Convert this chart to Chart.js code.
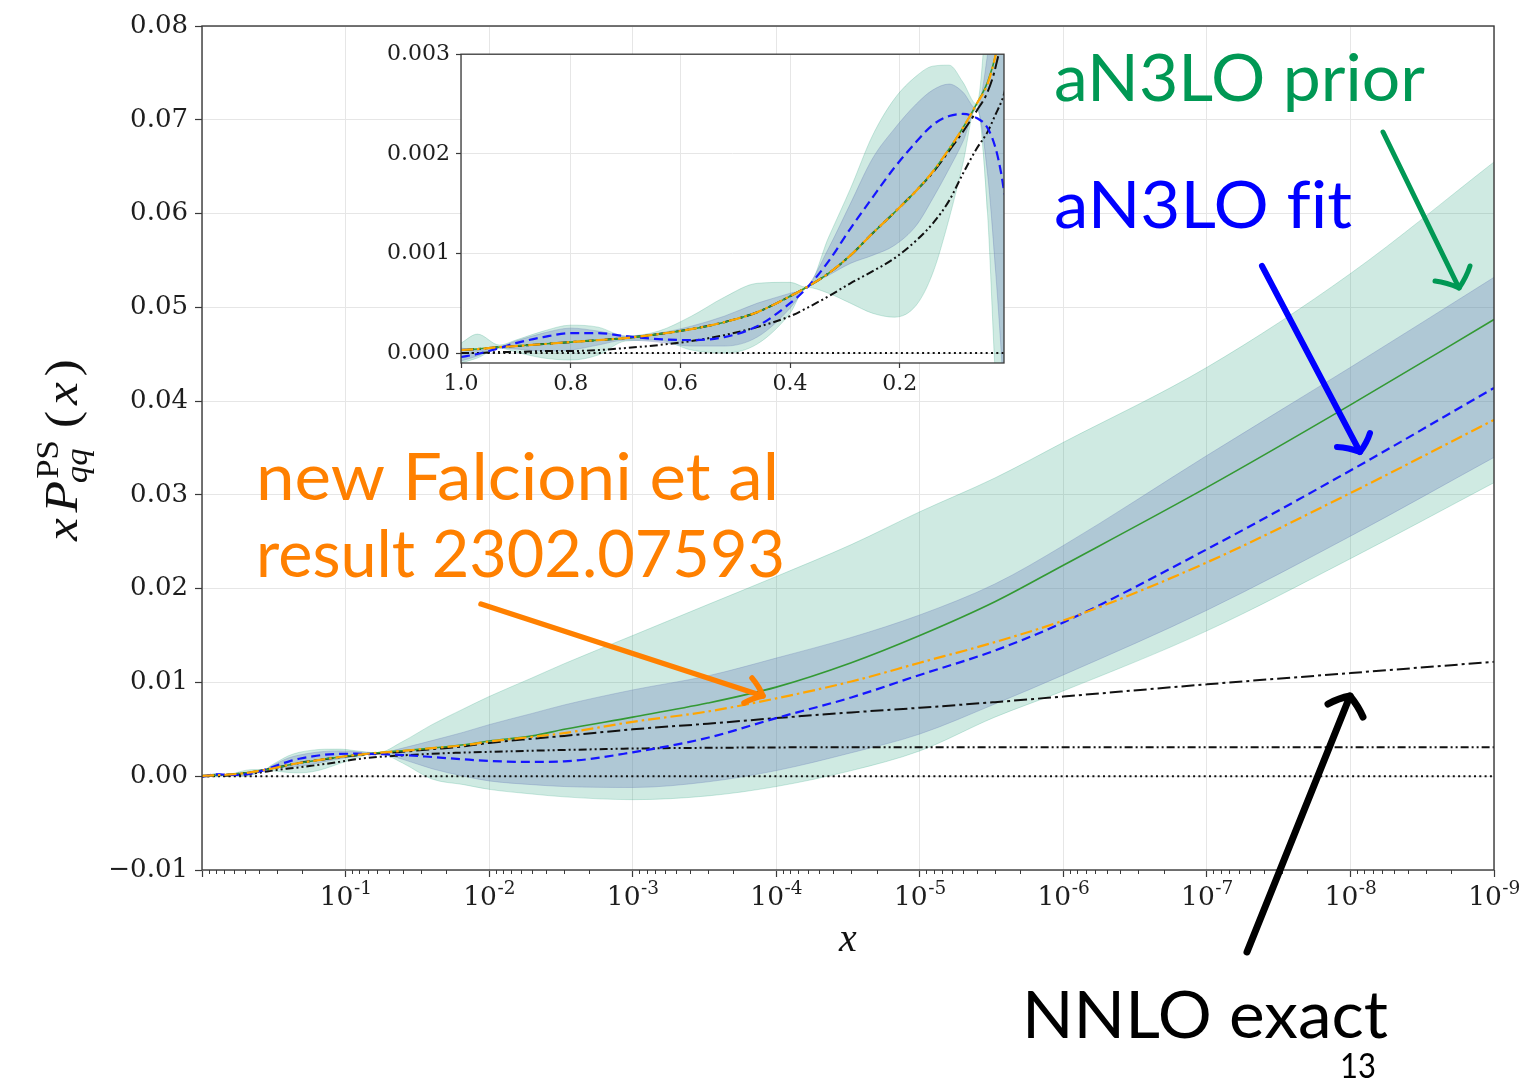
<!DOCTYPE html>
<html>
<head>
<meta charset="utf-8">
<script src="https://cdn.jsdelivr.net/npm/chart.js@4.4.1/dist/chart.umd.min.js"></script>
<style>
  html, body { margin: 0; padding: 0; background: #fff; }
  #wrap { position: relative; width: 1524px; height: 1082px; overflow: hidden; }
  #main { position: absolute; left: 0; top: 0; }
  #inset { position: absolute; left: 370px; top: 35px; }
</style>
</head>
<body>
<div id="wrap">
  <canvas id="main" width="1524" height="1082"></canvas>
  <canvas id="inset" width="640" height="370"></canvas>
</div>
<script>
// ---- data: x P_qq^PS(x) curves sampled on a common x grid ----
const xs = [1, 0.97, 0.93, 0.9, 0.85, 0.8, 0.75, 0.7, 0.64, 0.58,
            0.52, 0.46, 0.4, 0.37, 0.33, 0.29, 0.25, 0.21, 0.17, 0.14,
            0.11, 0.085, 0.06, 0.04, 0.025, 0.015, 0.01, 0.005, 3e-3, 1e-3,
            3e-4, 1e-4, 3e-5, 1e-5, 3e-6, 1e-6, 1e-7, 1e-8, 1e-9];

// aN3LO prior: central value and band
const priorCentral = [0.00003, 0.00004, 0.00006, 0.00007, 0.00009, 0.00011, 0.00013, 0.00015, 0.00019, 0.00024,
                      0.00031, 0.00041, 0.00057, 0.00066, 0.00080, 0.00098, 0.00120, 0.00141, 0.00163, 0.00182,
                      0.00205, 0.00226, 0.00250, 0.00272, 0.00300, 0.00335, 0.00375, 0.00430, 0.00500, 0.00630,
                      0.00780, 0.00950, 0.01210, 0.01500, 0.01860, 0.02250, 0.03080, 0.03960, 0.04870];
const priorHi = [0.00010, 0.00019, 0.00008, 0.00013, 0.00022, 0.00028, 0.00026, 0.00017, 0.00022, 0.00037,
                 0.00056, 0.00070, 0.00071, 0.00066, 0.00116, 0.00165, 0.00218, 0.00255, 0.00278, 0.00288,
                 0.00289, 0.00272, 0.00250, 0.00370, 0.00550, 0.00720, 0.00850, 0.01050, 0.01200, 0.01500,
                 0.01830, 0.02130, 0.02470, 0.02820, 0.03180, 0.03560, 0.04360, 0.05360, 0.06550];
const priorLo = [-0.00010, -0.00005, 0.00005, 0.00001, -0.00005, -0.00007, -0.00002, 0.00012, 0.00013, 0.00003,
                 0.00000, 0.00009, 0.00040, 0.00066, 0.00060, 0.00050, 0.00040, 0.00036, 0.00048, 0.00080,
                 0.00135, 0.00190, 0.00250, 0.00140, -0.00030, -0.00090, -0.00140, -0.00190, -0.00220, -0.00250,
                 -0.00210, -0.00110, 0.00060, 0.00270, 0.00630, 0.00910, 0.01550, 0.02320, 0.03130];

// aN3LO fit: central value and band
const fitCentral = [-0.00004, -0.00001, 0.00005, 0.00010, 0.00016, 0.00020, 0.00020, 0.00017, 0.00014, 0.00013,
                    0.00016, 0.00027, 0.00050, 0.00065, 0.00092, 0.00125, 0.00156, 0.00186, 0.00212, 0.00229,
                    0.00238, 0.00240, 0.00236, 0.00226, 0.00205, 0.00180, 0.00163, 0.00152, 0.00158, 0.00255,
                    0.00410, 0.00620, 0.00840, 0.01080, 0.01340, 0.01640, 0.02420, 0.03260, 0.04140];
const fitHi = [0.00005, 0.00003, 0.00006, 0.00012, 0.00020, 0.00025, 0.00022, 0.00017, 0.00020, 0.00027,
               0.00037, 0.00050, 0.00060, 0.00066, 0.00105, 0.00150, 0.00195, 0.00225, 0.00250, 0.00264,
               0.00270, 0.00262, 0.00245, 0.00300, 0.00380, 0.00470, 0.00550, 0.00670, 0.00760, 0.00920,
               0.01070, 0.01260, 0.01480, 0.01720, 0.02050, 0.02460, 0.03420, 0.04360, 0.05320];
const fitLo = [-0.00008, -0.00003, 0.00005, 0.00004, 0.00002, 0.00003, 0.00008, 0.00013, 0.00011, 0.00007,
               0.00007, 0.00016, 0.00045, 0.00066, 0.00078, 0.00090, 0.00098, 0.00108, 0.00128, 0.00155,
               0.00185, 0.00212, 0.00245, 0.00180, 0.00080, 0.00000, -0.00050, -0.00090, -0.00110, -0.00120,
               -0.00060, 0.00060, 0.00250, 0.00450, 0.00770, 0.01080, 0.01770, 0.02560, 0.03400];

// Falcioni et al. (2302.07593)
const falcioni = [0.00003, 0.00004, 0.00006, 0.00007, 0.00009, 0.00011, 0.00013, 0.00015, 0.00019, 0.00024,
                  0.00031, 0.00041, 0.00057, 0.00066, 0.00080, 0.00098, 0.00120, 0.00141, 0.00163, 0.00182,
                  0.00205, 0.00226, 0.00250, 0.00270, 0.00300, 0.00330, 0.00370, 0.00420, 0.00460, 0.00580,
                  0.00690, 0.00830, 0.01010, 0.01210, 0.01430, 0.01660, 0.02280, 0.03020, 0.03800];

// exact lower orders
const nnlo = [0.00003, 0.00004, 0.00006, 0.00007, 0.00009, 0.00011, 0.00013, 0.00015, 0.00019, 0.00024,
              0.00031, 0.00041, 0.00057, 0.00066, 0.00080, 0.00098, 0.00120, 0.00141, 0.00163, 0.00181,
              0.00203, 0.00222, 0.00243, 0.00262, 0.00288, 0.00318, 0.00355, 0.00400, 0.00430, 0.00500,
              0.00560, 0.00620, 0.00680, 0.00730, 0.00790, 0.00850, 0.00980, 0.01100, 0.01220];
const nlo = [0, 0, 0.00001, 0.00001, 0.00002, 0.00002, 0.00003, 0.00005, 0.00008, 0.00012,
             0.00018, 0.00026, 0.00037, 0.00045, 0.00057, 0.00070, 0.00082, 0.00095, 0.00113, 0.00130,
             0.00153, 0.00180, 0.00205, 0.00222, 0.00240, 0.00252, 0.00260, 0.00272, 0.00280, 0.00295,
             0.00303, 0.00307, 0.00310, 0.00310, 0.00310, 0.00310, 0.00310, 0.00310, 0.00310];
const lo = xs.map(() => 0);

// axis ticks
const mainDecades = [0, 1, 2, 3, 4, 5, 6, 7, 8, 9];          // x = 10^-n
const mainLabelledDecades = [1, 2, 3, 4, 5, 6, 7, 8, 9];
const insetXTicks = [1.0, 0.8, 0.6, 0.4, 0.2];
const insetYTicks = [0, 0.001, 0.002, 0.003];

// ---- styling ----
const AXIS = '#3a3a3a', GRID = '#e6e6e6', TICKTXT = '#1e1e1e';
const SERIF = '"DejaVu Serif", serif';
const MATH = '"Liberation Serif", "DejaVu Serif", serif';
const SANS = 'Lato, "Open Sans", sans-serif';
const GREEN_FILL = 'rgba(27,158,119,0.21)';
const BLUE_FILL = 'rgba(102,123,181,0.30)';

function series(arr, xmin) {
  const out = [];
  xs.forEach((x, i) => { if (x >= xmin) out.push({ x: x, y: arr[i] }); });
  return out;
}

function buildDatasets(xmin) {
  const c = { pointRadius: 0, pointHoverRadius: 0, cubicInterpolationMode: 'monotone', fill: false };
  return [
    { ...c, label: 'aN3LO prior band', data: series(priorHi, xmin), fill: '+1', backgroundColor: GREEN_FILL, borderColor: GREEN_FILL, borderWidth: 1, order: 10 },
    { ...c, label: 'aN3LO prior band low', data: series(priorLo, xmin), borderColor: GREEN_FILL, borderWidth: 1, order: 9 },
    { ...c, label: 'aN3LO fit band', data: series(fitHi, xmin), fill: '+1', backgroundColor: BLUE_FILL, borderColor: BLUE_FILL, borderWidth: 1, order: 8 },
    { ...c, label: 'aN3LO fit band low', data: series(fitLo, xmin), borderColor: BLUE_FILL, borderWidth: 1, order: 7 },
    { ...c, label: 'LO', data: series(lo, xmin), borderColor: '#111', borderWidth: 2, borderDash: [2, 3.3], order: 6 },
    { ...c, label: 'NLO', data: series(nlo, xmin), borderColor: '#111', borderWidth: 2, borderDash: [8, 3, 2, 3, 2, 3], order: 5 },
    { ...c, label: 'NNLO exact', data: series(nnlo, xmin), borderColor: '#111', borderWidth: 2, borderDash: [13, 4, 3, 4], order: 4 },
    { ...c, label: 'aN3LO prior', data: series(priorCentral, xmin), borderColor: '#339933', borderWidth: 1.6, order: 3 },
    { ...c, label: 'aN3LO fit', data: series(fitCentral, xmin), borderColor: '#1515ff', borderWidth: 2.2, borderDash: [9, 5], order: 2 },
    { ...c, label: 'Falcioni et al', data: series(falcioni, xmin), borderColor: '#ffa500', borderWidth: 2.2, borderDash: [12, 4, 2.5, 4], order: 1 }
  ];
}

// ---- drawing helpers ----
function fitText(ctx, text, left, baseline, capH, width, color) {
  const size = capH / 0.72;
  ctx.save();
  ctx.font = size + 'px ' + SANS;
  const w = ctx.measureText(text).width;
  ctx.translate(left, baseline);
  ctx.scale(width / w, 1);
  ctx.fillStyle = color;
  ctx.textAlign = 'left';
  ctx.textBaseline = 'alphabetic';
  ctx.fillText(text, 0, 0);
  ctx.restore();
}

function arrow(ctx, x0, y0, x1, y1, arm1, arm2, color, width) {
  ctx.save();
  ctx.strokeStyle = color;
  ctx.lineWidth = width;
  ctx.lineCap = 'round';
  ctx.lineJoin = 'round';
  ctx.beginPath();
  ctx.moveTo(x0, y0);
  ctx.lineTo(x1, y1);
  ctx.stroke();
  ctx.beginPath();
  ctx.moveTo(arm1[0], arm1[1]);
  ctx.quadraticCurveTo((arm1[0] + x1) / 2, (arm1[1] + y1) / 2 - 2, x1, y1);
  ctx.quadraticCurveTo((arm2[0] + x1) / 2 + 2, (arm2[1] + y1) / 2, arm2[0], arm2[1]);
  ctx.stroke();
  ctx.restore();
}

// rotated y title:  x P^{PS}_{qq}(x)
function drawYTitle(ctx, cy, baseX) {
  const big = 46, small = 31;
  const it = s => 'italic 400 ' + s + 'px ' + MATH;
  const rm = s => '400 ' + s + 'px ' + MATH;
  ctx.save();
  ctx.translate(baseX, cy);
  ctx.rotate(-Math.PI / 2);
  const stretch = 1.12;
  ctx.scale(stretch, 1);
  ctx.fillStyle = '#111';
  ctx.textBaseline = 'alphabetic';
  ctx.textAlign = 'left';
  const m = (t, f) => { ctx.font = f; return ctx.measureText(t).width; };
  const wx = m('x', it(big)), wP = m('P', it(big));
  const wSup = m('PS', rm(small)), wSub = m('qq', it(small));
  const wL = m('(', rm(big)), wR = m(')', rm(big));
  const wScript = Math.max(wSup, wSub);
  const natural = wx + wP + wScript + wL + wx + wR;
  const target = 190 / stretch;
  const gap = Math.max(0, (target - natural) / 4.2);
  let x = -target / 2;
  ctx.font = it(big); ctx.fillText('x', x, 0); x += wx + gap * 0.6;
  ctx.fillText('P', x, 0); x += wP + 1;
  ctx.font = rm(small); ctx.fillText('PS', x + 1, -19);
  ctx.font = it(small); ctx.fillText('qq', x - 3, 10);
  x += wScript + gap * 1.4;
  ctx.font = rm(big); ctx.fillText('(', x, 0); x += wL + gap * 0.6;
  ctx.font = it(big); ctx.fillText('x', x, 0); x += wx + gap * 0.6;
  ctx.font = rm(big); ctx.fillText(')', x, 0);
  ctx.restore();
}

// ---- main chart ----
const mainDecor = {
  id: 'mainDecor',
  beforeDraw(chart) {
    const ctx = chart.ctx;
    ctx.save();
    ctx.fillStyle = '#fff';
    ctx.fillRect(0, 0, chart.width, chart.height);
    ctx.restore();
  },
  afterDatasetsDraw(chart) {
    const { ctx, chartArea: a } = chart;
    ctx.save();
    ctx.strokeStyle = AXIS;
    ctx.lineWidth = 1.4;
    ctx.strokeRect(a.left, a.top, a.right - a.left, a.bottom - a.top);
    ctx.restore();
  },
  afterDraw(chart) {
    const { ctx, chartArea: a, scales } = chart;
    const sx = scales.x;
    ctx.save();
    // minor ticks of the log axis
    ctx.strokeStyle = AXIS;
    ctx.lineWidth = 1;
    for (let k = 0; k < 9; k++) {
      for (let m = 2; m <= 9; m++) {
        const px = Math.round(sx.getPixelForValue(m * Math.pow(10, -(k + 1)))) + 0.5;
        ctx.beginPath(); ctx.moveTo(px, a.bottom); ctx.lineTo(px, a.bottom + 4); ctx.stroke();
      }
    }
    // decade labels 10^-n
    ctx.fillStyle = TICKTXT;
    ctx.textBaseline = 'alphabetic';
    ctx.textAlign = 'left';
    mainLabelledDecades.forEach(n => {
      const px = sx.getPixelForValue(Math.pow(10, -n));
      ctx.font = '26.5px ' + SERIF;
      const wb = ctx.measureText('10').width;
      ctx.font = '18.5px ' + SERIF;
      const ws = ctx.measureText('-' + n).width;
      const x0 = px - (wb + ws) / 2;
      ctx.font = '26.5px ' + SERIF;
      ctx.fillText('10', x0, a.bottom + 35);
      ctx.font = '18.5px ' + SERIF;
      ctx.fillText('-' + n, x0 + wb + 0.5, a.bottom + 23.5);
    });
    // axis titles
    ctx.font = 'italic 400 40px ' + MATH;
    ctx.textAlign = 'center';
    ctx.fillStyle = '#111';
    ctx.fillText('x', (a.left + a.right) / 2, 951);
    drawYTitle(ctx, 446, 77);

    // annotations
    fitText(ctx, 'aN3LO prior', 1054, 101, 48, 371, 'rgb(0,152,84)');
    fitText(ctx, 'aN3LO f\u200Cit', 1054, 228, 48, 298, '#0000ff');
    fitText(ctx, 'new Falcioni et al', 256, 500, 47, 523, '#ff8000');
    fitText(ctx, 'result 2302.07593', 256, 577, 47, 529, '#ff8000');
    fitText(ctx, 'NNLO exact', 1022, 1038, 47, 366, '#000');
    fitText(ctx, '13', 1340, 1078, 25, 36, '#000');

    arrow(ctx, 1383, 132, 1459, 288, [1435, 281], [1470, 266], 'rgb(0,152,84)', 5);
    arrow(ctx, 1262, 266, 1360, 452, [1337, 447], [1370, 433], '#0000ff', 6);
    arrow(ctx, 481, 604, 763, 696, [744, 703], [752, 678], '#ff8000', 5.5);
    arrow(ctx, 1247, 952, 1350, 696, [1328, 704], [1363, 717], '#000', 7);
    ctx.restore();
  }
};

new Chart(document.getElementById('main'), {
  type: 'line',
  data: { datasets: buildDatasets(0) },
  options: {
    responsive: false,
    animation: false,
    events: [],
    layout: { padding: { top: 26, right: 30, left: 0, bottom: 0 } },
    plugins: { legend: { display: false }, tooltip: { enabled: false } },
    scales: {
      x: {
        type: 'logarithmic',
        reverse: true,
        min: 1e-9,
        max: 1,
        afterBuildTicks: s => { s.ticks = mainDecades.map(n => ({ value: Math.pow(10, -n) })); },
        afterFit: s => { s.height = 212; },
        ticks: { callback: () => '', autoSkip: false, maxRotation: 0 },
        grid: { color: GRID, tickColor: AXIS, tickLength: 7, lineWidth: 1, tickWidth: 1.2 },
        border: { display: false }
      },
      y: {
        min: -0.01,
        max: 0.08,
        afterFit: s => { s.width = 202; },
        ticks: {
          stepSize: 0.01,
          padding: 7,
          color: TICKTXT,
          font: { family: SERIF, size: 26 },
          callback: v => (v < 0 ? '\u2212' : '') + Math.abs(v).toFixed(2)
        },
        grid: { color: GRID, tickColor: AXIS, tickLength: 7, lineWidth: 1, tickWidth: 1.2 },
        border: { display: false }
      }
    }
  },
  plugins: [mainDecor]
});

// ---- inset: linear x near large x ----
const insetDecor = {
  id: 'insetDecor',
  beforeDraw(chart) {
    const { ctx, chartArea: a } = chart;
    ctx.save();
    ctx.fillStyle = '#fff';
    ctx.fillRect(a.left, a.top, a.right - a.left, a.bottom - a.top);
    ctx.restore();
  },
  afterDatasetsDraw(chart) {
    const { ctx, chartArea: a } = chart;
    ctx.save();
    ctx.strokeStyle = AXIS;
    ctx.lineWidth = 1.3;
    ctx.strokeRect(a.left, a.top, a.right - a.left, a.bottom - a.top);
    ctx.restore();
  }
};

new Chart(document.getElementById('inset'), {
  type: 'line',
  data: { datasets: buildDatasets(0.005) },
  options: {
    responsive: false,
    animation: false,
    events: [],
    layout: { padding: { top: 18, right: 6, left: 0, bottom: 0 } },
    plugins: { legend: { display: false }, tooltip: { enabled: false } },
    scales: {
      x: {
        type: 'linear',
        reverse: true,
        min: 0.01,
        max: 1,
        afterBuildTicks: s => { s.ticks = insetXTicks.map(v => ({ value: v })); },
        afterFit: s => { s.height = 42; },
        ticks: { autoSkip: false, maxRotation: 0, padding: 3, color: TICKTXT, font: { family: SERIF, size: 22 }, callback: v => v.toFixed(1) },
        grid: { color: GRID, tickColor: AXIS, tickLength: 5, lineWidth: 1, tickWidth: 1.2 },
        border: { display: false }
      },
      y: {
        min: -0.0001,
        max: 0.003,
        afterBuildTicks: s => { s.ticks = insetYTicks.map(v => ({ value: v })); },
        afterFit: s => { s.width = 91; },
        ticks: { padding: 6, color: TICKTXT, font: { family: SERIF, size: 22 }, callback: v => v.toFixed(3) },
        grid: { color: GRID, tickColor: AXIS, tickLength: 5, lineWidth: 1, tickWidth: 1.2 },
        border: { display: false }
      }
    }
  },
  plugins: [insetDecor]
});
</script>
</body>
</html>
